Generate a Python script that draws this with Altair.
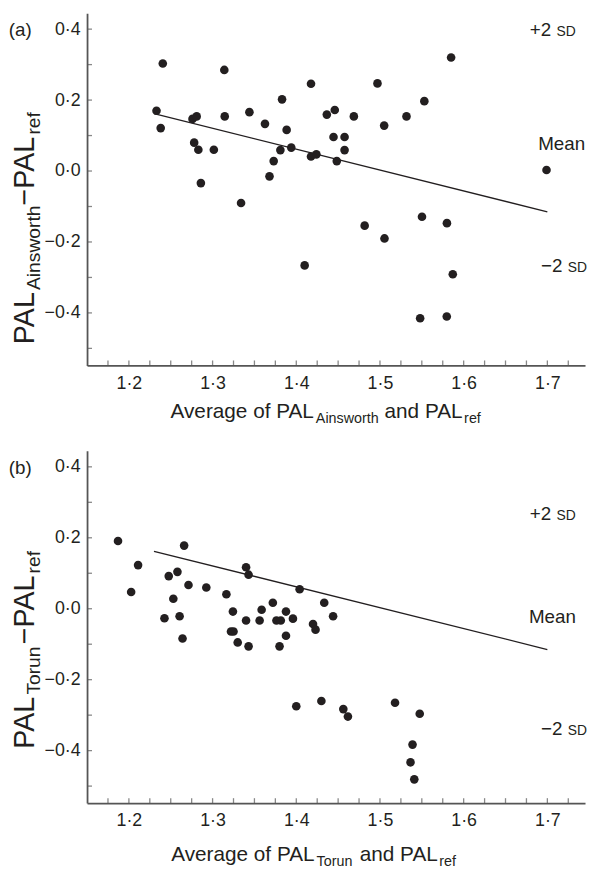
import altair as alt
import pandas as pd

FONT = "Liberation Sans"
INK = "#231f20"
AXC = "#555555"

# ---------------- data ----------------
a_x = [1.2405, 1.314, 1.233, 1.238, 1.276, 1.281, 1.3145, 1.344, 1.3626, 1.383,
       1.3885, 1.278, 1.283, 1.3015, 1.286, 1.334, 1.368, 1.373, 1.381, 1.394,
       1.4176, 1.4176, 1.424, 1.4365, 1.446, 1.4445, 1.4484, 1.4688, 1.497, 1.505,
       1.5317, 1.553, 1.585, 1.4577, 1.4577, 1.699, 1.4817, 1.5054, 1.5502, 1.580,
       1.587, 1.548, 1.5798, 1.410]
a_y = [0.303, 0.285, 0.170, 0.121, 0.147, 0.154, 0.154, 0.166, 0.133, 0.202,
       0.116, 0.080, 0.060, 0.060, -0.034, -0.090, -0.015, 0.028, 0.059, 0.066,
       0.246, 0.041, 0.047, 0.159, 0.172, 0.096, 0.028, 0.154, 0.247, 0.128,
       0.154, 0.197, 0.320, 0.096, 0.059, 0.003, -0.154, -0.190, -0.129, -0.147,
       -0.291, -0.415, -0.410, -0.266]

b_x = [1.187, 1.266, 1.211, 1.2027, 1.2476, 1.258, 1.2712, 1.2925, 1.2531, 1.2425,
       1.2606, 1.2641, 1.3165, 1.3243, 1.322, 1.325, 1.330, 1.343, 1.340, 1.343,
       1.340, 1.3562, 1.3586, 1.372, 1.3763, 1.3815, 1.3877, 1.396, 1.3877, 1.380,
       1.404, 1.420, 1.423, 1.4334, 1.444, 1.4562, 1.4617, 1.518, 1.5475, 1.5389,
       1.5365, 1.541, 1.400, 1.430]
b_y = [0.191, 0.178, 0.123, 0.047, 0.092, 0.104, 0.067, 0.060, 0.028, -0.027,
       -0.021, -0.084, 0.041, -0.008, -0.064, -0.064, -0.095, -0.106, 0.117, 0.096,
       -0.033, -0.033, -0.003, 0.017, -0.033, -0.033, -0.008, -0.028, -0.076, -0.106,
       0.055, -0.043, -0.059, 0.017, -0.021, -0.283, -0.304, -0.265, -0.296, -0.383,
       -0.433, -0.481, -0.275, -0.260]

line_x = [1.23, 1.70]
line_y = [0.162, -0.115]

x_label_values = [1.2, 1.3, 1.4, 1.5, 1.6, 1.7]
x_minor_ticks = [1.175, 1.2, 1.225, 1.25, 1.275, 1.3, 1.325, 1.35, 1.375, 1.4,
                 1.425, 1.45, 1.475, 1.5, 1.525, 1.55, 1.575, 1.6, 1.625, 1.65,
                 1.675, 1.7, 1.725]
y_label_values = [-0.4, -0.2, 0.0, 0.2, 0.4]
y_minor_ticks = [-0.5, -0.4, -0.3, -0.2, -0.1, 0.0, 0.1, 0.2, 0.3, 0.4]

# annotation labels: main text, small-caps part, x, baseline y
ann_a_main = ["+2", "Mean", "\u22122"]
ann_a_sc = ["SD", "", "SD"]
ann_a_x = [1.679, 1.689, 1.6925]
ann_a_y = [0.382, 0.059, -0.284]
ann_b_main = ["+2", "Mean", "\u22122"]
ann_b_sc = ["SD", "", "SD"]
ann_b_x = [1.679, 1.678, 1.6925]
ann_b_y = [0.250, -0.040, -0.356]

X_DOMAIN = [1.15, 1.745]
Y_DOMAIN = [-0.548, 0.445]
W, H = 504, 356.5

# ---------------- helpers ----------------
CW = {"A": .667, "v": .5, "e": .556, "r": .333, "a": .556, "g": .556, " ": .278,
      "o": .556, "f": .278, "P": .667, "L": .556, "i": .222, "n": .556, "s": .5,
      "w": .722, "t": .278, "h": .556, "d": .556, "T": .611, "u": .556,
      "\u2212": .584, "S": .667, "D": .722, "+": .584, "2": .556}


def tw(s, size):
    return sum(CW.get(c, 0.556) for c in s) * size


dummy = pd.DataFrame({"k": [0]})


def rich_text(segs, x0, y0, main, sub, drop, rotated=False):
    layers = []
    pos = y0 if rotated else x0
    for text, is_sub in segs:
        size = sub if is_sub else main
        d = drop if is_sub else 0
        lead = len(text) - len(text.lstrip(" "))
        start = pos + (-1 if rotated else 1) * tw(" " * lead, size)
        if rotated:
            x, y = x0 + d, start
        else:
            x, y = start, y0 + d
        layers.append(
            alt.Chart(dummy).mark_text(
                align="left", baseline="alphabetic", fontSize=size, font=FONT,
                color=INK, angle=270 if rotated else 0,
            ).encode(x=alt.value(x), y=alt.value(y), text=alt.value(text.strip()))
        )
        pos += (-1 if rotated else 1) * tw(text, size)
    return layers


LBL = "replace(format(datum.value, '.1f'), '.', '\u00b7')"


def panel(xs, ys, letter, xsegs, xt_pos, ysegs, yt_pos, amain, asc, ax, ay):
    df = pd.DataFrame({"x": xs, "y": ys})
    xs_ = alt.Scale(domain=X_DOMAIN, nice=False, zero=False)
    ys_ = alt.Scale(domain=Y_DOMAIN, nice=False, zero=False)
    xax = alt.Axis(values=x_label_values, labelExpr=LBL, ticks=False, grid=False,
                   title=None, domainColor=AXC, domainWidth=1.8, labelFont=FONT,
                   labelFontSize=18, labelColor=INK, labelPadding=9)
    yax = alt.Axis(values=y_label_values, labelExpr=LBL, ticks=False, grid=False,
                   title=None, domainColor=AXC, domainWidth=1.8, labelFont=FONT,
                   labelFontSize=18, labelColor=INK, labelPadding=7)
    pts = alt.Chart(df).mark_circle(size=76, opacity=1, color=INK).encode(
        x=alt.X("x:Q", scale=xs_, axis=xax), y=alt.Y("y:Q", scale=ys_, axis=yax))
    ln = alt.Chart(pd.DataFrame({"x": line_x, "y": line_y})).mark_line(
        color=INK, strokeWidth=1.3).encode(x=alt.X("x:Q", scale=xs_), y=alt.Y("y:Q", scale=ys_))
    xt = alt.Chart(pd.DataFrame({"x": x_minor_ticks})).mark_tick(
        orient="vertical", size=5, thickness=1.3, color=AXC).encode(
        x=alt.X("x:Q", scale=xs_), y=alt.value(H - 2.5))
    yt = alt.Chart(pd.DataFrame({"y": y_minor_ticks})).mark_tick(
        orient="horizontal", size=5, thickness=1.3, color=AXC).encode(
        y=alt.Y("y:Q", scale=ys_), x=alt.value(2.5))
    adf = pd.DataFrame({"x": ax, "y": ay, "m": amain, "s": asc})
    am = alt.Chart(adf).mark_text(align="left", baseline="alphabetic", fontSize=19,
                                  font=FONT, color=INK).encode(
        x=alt.X("x:Q", scale=xs_), y=alt.Y("y:Q", scale=ys_), text="m:N")
    asm = alt.Chart(adf).mark_text(align="left", baseline="alphabetic", fontSize=14,
                                   font=FONT, color=INK, dx=tw("+2 ", 19)).encode(
        x=alt.X("x:Q", scale=xs_), y=alt.Y("y:Q", scale=ys_), text="s:N")
    let = alt.Chart(dummy).mark_text(align="left", baseline="middle", fontSize=19,
                                     font=FONT, color=INK).encode(
        x=alt.value(-79.2), y=alt.value(17), text=alt.value(letter))
    layers = [ln, pts, xt, yt, am, asm, let]
    layers += rich_text(xsegs, xt_pos[0], xt_pos[1], 21, 14.5, 5)
    layers += rich_text(ysegs, yt_pos[0], yt_pos[1], 29, 19.5, 5.5, rotated=True)
    return alt.layer(*layers).properties(width=W, height=H)


pa = panel(a_x, a_y, "(a)",
           [("Average of PAL", False), ("Ainsworth", True), (" and PAL", False), ("ref", True)],
           (172 - 87.5, 418 - 8),
           [("PAL", False), ("Ainsworth", True), ("\u2212PAL", False), ("ref", True)],
           (34.3 - 87.5, 343 - 8),
           ann_a_main, ann_a_sc, ann_a_x, ann_a_y)

pb = panel(b_x, b_y, "(b)",
           [("Average of PAL", False), ("Torun", True), (" and PAL", False), ("ref", True)],
           (172.7 - 87.5, 866 - 450.5),
           [("PAL", False), ("Torun", True), ("\u2212PAL", False), ("ref", True)],
           (34.3 - 87.5, 752 - 450.5),
           ann_b_main, ann_b_sc, ann_b_x, ann_b_y)

chart = alt.vconcat(pa, pb, spacing=86, bounds="flush").properties(
    padding=0).configure_view(stroke=None)

chart.save("out.html", embed_options={"renderer": "svg", "actions": False})
